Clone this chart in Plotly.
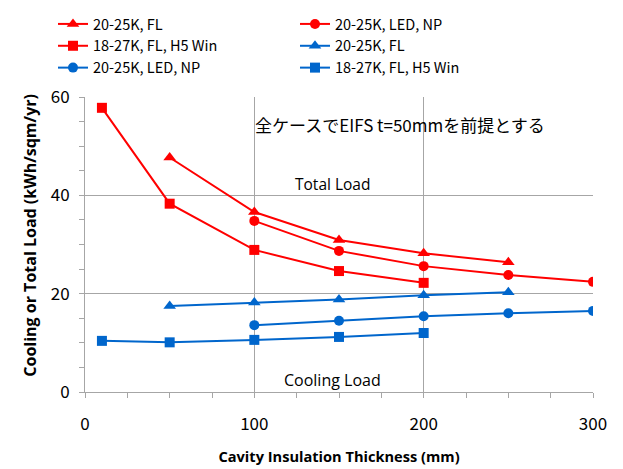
import plotly.graph_objects as go

RED = "#FF0000"
BLUE = "#0066CC"

# Total load series
x_tri_total = [50, 100, 150, 200, 250]
y_tri_total = [47.7, 36.6, 30.9, 28.2, 26.4]
x_circ_total = [100, 150, 200, 250, 300]
y_circ_total = [34.8, 28.7, 25.6, 23.8, 22.4]
x_sq_total = [10, 50, 100, 150, 200]
y_sq_total = [57.8, 38.3, 28.9, 24.6, 22.2]

# Cooling load series
x_tri_cool = [50, 100, 150, 200, 250]
y_tri_cool = [17.5, 18.2, 18.8, 19.7, 20.3]
x_circ_cool = [100, 150, 200, 250, 300]
y_circ_cool = [13.6, 14.5, 15.4, 16.0, 16.5]
x_sq_cool = [10, 50, 100, 150, 200]
y_sq_cool = [10.4, 10.1, 10.6, 11.2, 12.0]

series = [
    ("20-25K, FL", x_tri_total, y_tri_total, RED, "triangle-up"),
    ("20-25K, LED, NP", x_circ_total, y_circ_total, RED, "circle"),
    ("18-27K, FL, H5 Win", x_sq_total, y_sq_total, RED, "square"),
    ("20-25K, FL", x_tri_cool, y_tri_cool, BLUE, "triangle-up"),
    ("20-25K, LED, NP", x_circ_cool, y_circ_cool, BLUE, "circle"),
    ("18-27K, FL, H5 Win", x_sq_cool, y_sq_cool, BLUE, "square"),
]

fig = go.Figure()
for name, xs, ys, col, sym in series:
    fig.add_trace(go.Scatter(
        x=xs, y=ys, name=name, mode="lines+markers",
        line=dict(color=col, width=2),
        marker=dict(color=col, symbol=sym, size=10 if sym != "triangle-up" else 11),
    ))

tickfont = dict(family="Noto Sans CJK JP", size=17, color="#000")

fig.update_layout(
    width=615, height=461,
    margin=dict(l=77, r=30, t=89, b=77, autoexpand=False),
    paper_bgcolor="white", plot_bgcolor="white",
    showlegend=True,
    legend=dict(
        orientation="h", x=-0.063, y=1.3017, xanchor="left", yanchor="top",
        xref="paper", yref="paper",
        entrywidth=197, entrywidthmode="pixels",
        font=dict(family="Noto Sans CJK JP", size=14.5, color="#000"),
        tracegroupgap=0, itemwidth=30,
    ),
    xaxis=dict(
        range=[0, 300], tickvals=[0, 100, 200, 300],
        showgrid=True, gridcolor="#A6A6A6", gridwidth=1,
        showline=True, linecolor="#A6A6A6", linewidth=1,
        ticks="outside", ticklen=5, tickcolor="#A6A6A6",
        minor=dict(dtick=25, ticks="outside", ticklen=5, tickcolor="#A6A6A6", showgrid=False),
        tickfont=tickfont, ticklabelstandoff=12,
        zeroline=False,
        title=dict(text="Cavity Insulation Thickness (mm)",
                   font=dict(family="Open Sans", size=14.6, color="#000", weight="bold"),
                   standoff=17),
    ),
    yaxis=dict(
        range=[0, 60], tickvals=[0, 20, 40, 60],
        showgrid=True, gridcolor="#A6A6A6", gridwidth=1,
        showline=True, linecolor="#A6A6A6", linewidth=1,
        ticks="outside", ticklen=5, tickcolor="#A6A6A6",
        minor=dict(dtick=5, ticks="outside", ticklen=5, tickcolor="#A6A6A6", showgrid=False),
        tickfont=tickfont, ticklabelstandoff=6,
        zeroline=False,
    ),
    annotations=[
        dict(x=-0.109, y=0.532, xref="paper", yref="paper", xanchor="center", yanchor="middle",
             text="Cooling or Total Load (kWh/sqm/yr)", textangle=-90, showarrow=False,
             font=dict(family="Open Sans", size=16, color="#000", weight="bold")),
        dict(x=0.33, y=0.908, xref="paper", yref="paper", xanchor="left", yanchor="middle",
             text="全ケースでEIFS t=50mmを前提とする", showarrow=False,
             font=dict(family="Noto Sans CJK JP", size=17, color="#000")),
        dict(x=146, y=42.3, xref="x", yref="y",
             text="Total Load", showarrow=False,
             font=dict(family="Open Sans", size=15.5, color="#000")),
        dict(x=146, y=2.4, xref="x", yref="y",
             text="Cooling Load", showarrow=False,
             font=dict(family="Open Sans", size=16, color="#000")),
    ],
)

fig.write_html("out.html")
